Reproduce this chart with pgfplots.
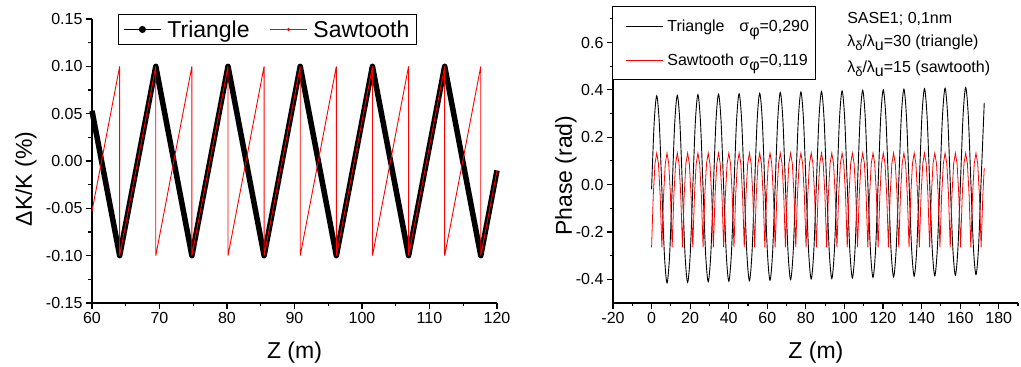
\documentclass[border=0pt]{standalone}
\usepackage{pgfplots}
\pgfplotsset{compat=1.18}
\usepackage{fontspec}
\setmainfont{Liberation Sans}
\begin{document}
\begin{tikzpicture}
\useasboundingbox (0,0) rectangle (1021pt,367pt);
\pgfplotsset{
  mylegend/.style={legend image code/.code={\draw[mark repeat=2,mark phase=2,##1] plot coordinates {(0pt,0pt) (18.5pt,0pt) (37pt,0pt)};}},
  mylegendR/.style={legend image code/.code={\path (0pt,0pt); \draw[##1] (9pt,0pt) -- (46pt,0pt);}},
  common/.style={scale only axis, anchor=south west, clip=false,
    axis x line*=bottom, axis y line*=left, axis line style={-, line width=1.3pt},
    tick style={black, line width=1.1pt},
    tick align=outside, major tick length=6pt, minor tick length=3.5pt,
    tick label style={font=\fontsize{16}{18}\selectfont},
    /pgf/number format/assume math mode=true,
    label style={font=\fontsize{23}{26}\selectfont},
  }
}
% ---------------- left panel ----------------
\begin{axis}[common, mylegend, at={(92pt,64pt)}, width=405pt, height=284pt,
  xmin=60, xmax=120, ymin=-0.15, ymax=0.15,
  xtick={60,70,...,120}, minor xtick={65,75,...,115},
  ytick={-0.15,-0.10,-0.05,0,0.05,0.10,0.15},
  minor ytick={-0.125,-0.075,-0.025,0.025,0.075,0.125},
  yticklabel style={/pgf/number format/.cd,fixed,fixed zerofill,precision=2},
  xlabel={Z (m)}, ylabel={ΔK/K (\%)},
  xlabel style={at={(axis description cs:0.5,-0.176)},anchor=center},
  ylabel style={at={(axis description cs:-0.163,0.437)},anchor=center},
  legend columns=2,
  legend style={at={(axis description cs:0.064,1.018)}, anchor=north west, draw=black, line width=1pt, fill=white,
    font=\fontsize{23}{26}\selectfont, inner xsep=5pt, inner ysep=4pt,
    /tikz/every odd column/.append style={column sep=4pt},
    /tikz/every even column/.append style={column sep=18pt}},
]
\addlegendimage{black, line width=1pt, mark=*, mark size=3pt}
\addlegendentry{Triangle}
\addlegendimage{red, line width=0.8pt, mark=*, mark size=1.2pt}
\addlegendentry{Sawtooth}
\addplot[black, line width=5.5pt, line join=round, forget plot] coordinates {
(60,0.053) (64.1,-0.1) (69.45,0.1) (74.8,-0.1) (80.15,0.1) (85.5,-0.1) (90.85,0.1)
(96.2,-0.1) (101.55,0.1) (106.9,-0.1) (112.25,0.1) (117.6,-0.1) (120,-0.01)};
\addplot[red, line width=0.9pt, forget plot] coordinates {
(60,-0.053) (64.1,0.1) (64.1,-0.1) (69.45,0.1) (69.45,-0.1) (74.8,0.1) (74.8,-0.1)
(80.15,0.1) (80.15,-0.1) (85.5,0.1) (85.5,-0.1) (90.85,0.1) (90.85,-0.1)
(96.2,0.1) (96.2,-0.1) (101.55,0.1) (101.55,-0.1) (106.9,0.1) (106.9,-0.1)
(112.25,0.1) (112.25,-0.1) (117.6,0.1) (117.6,-0.1) (120,-0.01)};
\end{axis}
% ---------------- right panel ----------------
\begin{axis}[common, mylegendR, at={(613pt,64pt)}, width=405pt, height=296pt,
  xmin=-20, xmax=190, ymin=-0.5, ymax=0.75,
  xtick={-20,0,...,180}, minor xtick={-10,10,...,190},
  ytick={-0.4,-0.2,0,0.2,0.4,0.6}, minor ytick={-0.3,-0.1,0.1,0.3,0.5,0.7},
  yticklabel style={/pgf/number format/.cd,fixed,fixed zerofill,precision=1},
  xlabel={Z (m)}, ylabel={Phase (rad)},
  xlabel style={at={(axis description cs:0.501,-0.169)},anchor=center},
  ylabel style={at={(axis description cs:-0.116,0.43)},anchor=center},
  legend cell align=left,
  legend style={at={(axis description cs:0,1)}, anchor=north west, xshift=-1pt, yshift=1pt,
    draw=black, line width=1pt, fill=white, font=\fontsize{16}{19}\selectfont,
    row sep=17pt, inner xsep=4pt, inner ysep=11pt,
    /tikz/every odd column/.append style={column sep=2pt}},
]
\addplot[black, line width=0.9pt, smooth] coordinates {
(0,-0.020)(1.335,0.259)(2.67,0.375)(4.005,0.259)(5.34,-0.020)(6.675,-0.299)(8.01,-0.415)(9.345,-0.299)
(10.68,-0.018)(12.015,0.261)(13.35,0.377)(14.685,0.261)(16.02,-0.018)(17.355,-0.297)(18.69,-0.413)(20.025,-0.297)
(21.36,-0.015)(22.695,0.264)(24.03,0.380)(25.365,0.264)(26.70,-0.015)(28.035,-0.294)(29.37,-0.410)(30.705,-0.294)
(32.04,-0.013)(33.375,0.266)(34.71,0.382)(36.045,0.266)(37.38,-0.013)(38.715,-0.292)(40.05,-0.408)(41.385,-0.292)
(42.72,-0.011)(44.055,0.268)(45.39,0.384)(46.725,0.268)(48.06,-0.011)(49.395,-0.290)(50.73,-0.406)(52.065,-0.290)
(53.40,-0.009)(54.735,0.270)(56.07,0.386)(57.405,0.270)(58.74,-0.009)(60.075,-0.288)(61.41,-0.404)(62.745,-0.288)
(64.08,-0.006)(65.415,0.273)(66.75,0.389)(68.085,0.273)(69.42,-0.006)(70.755,-0.285)(72.09,-0.401)(73.425,-0.285)
(74.76,-0.004)(76.095,0.275)(77.43,0.391)(78.765,0.275)(80.10,-0.004)(81.435,-0.283)(82.77,-0.399)(84.105,-0.283)
(85.44,-0.002)(86.775,0.277)(88.11,0.393)(89.445,0.277)(90.78,-0.002)(92.115,-0.281)(93.45,-0.397)(94.785,-0.281)
(96.12,0.001)(97.455,0.280)(98.79,0.396)(100.125,0.280)(101.46,0.001)(102.795,-0.278)(104.13,-0.394)(105.465,-0.278)
(106.80,0.003)(108.135,0.282)(109.47,0.398)(110.805,0.282)(112.14,0.003)(113.475,-0.276)(114.81,-0.392)(116.145,-0.276)
(117.48,0.005)(118.815,0.284)(120.15,0.400)(121.485,0.284)(122.82,0.005)(124.155,-0.274)(125.49,-0.390)(126.825,-0.274)
(128.16,0.008)(129.495,0.287)(130.83,0.403)(132.165,0.287)(133.50,0.008)(134.835,-0.271)(136.17,-0.387)(137.505,-0.271)
(138.84,0.010)(140.175,0.289)(141.51,0.405)(142.845,0.289)(144.18,0.010)(145.515,-0.269)(146.85,-0.385)(148.185,-0.269)
(149.52,0.012)(150.855,0.291)(152.19,0.407)(153.525,0.291)(154.86,0.012)(156.195,-0.267)(157.53,-0.383)(158.865,-0.267)
(160.20,0.015)(161.535,0.294)(162.87,0.410)(164.205,0.294)(165.54,0.015)(166.875,-0.264)(168.21,-0.380)(169.545,-0.264)
(170.88,0.017)(172.5,0.345)};
\addlegendentry{\makebox[72pt][l]{Triangle}σ\raisebox{-0.6ex}{φ}=0,290}
\addplot[red, line width=0.8pt] coordinates {
(0,-0.265)(0.89,-0.044)(1.78,0.089)(2.67,0.133)(3.56,0.089)(4.45,-0.044)
(5.34,-0.265)(6.23,-0.044)(7.12,0.089)(8.01,0.133)(8.90,0.089)(9.79,-0.044)
(10.68,-0.265)(11.57,-0.044)(12.46,0.089)(13.35,0.133)(14.24,0.089)(15.13,-0.044)
(16.02,-0.265)(16.91,-0.044)(17.80,0.089)(18.69,0.133)(19.58,0.089)(20.47,-0.044)
(21.36,-0.265)(22.25,-0.044)(23.14,0.089)(24.03,0.133)(24.92,0.089)(25.81,-0.044)
(26.70,-0.265)(27.59,-0.044)(28.48,0.089)(29.37,0.133)(30.26,0.089)(31.15,-0.044)
(32.04,-0.265)(32.93,-0.044)(33.82,0.089)(34.71,0.133)(35.60,0.089)(36.49,-0.044)
(37.38,-0.265)(38.27,-0.044)(39.16,0.089)(40.05,0.133)(40.94,0.089)(41.83,-0.044)
(42.72,-0.265)(43.61,-0.044)(44.50,0.089)(45.39,0.133)(46.28,0.089)(47.17,-0.044)
(48.06,-0.265)(48.95,-0.044)(49.84,0.089)(50.73,0.133)(51.62,0.089)(52.51,-0.044)
(53.40,-0.265)(54.29,-0.044)(55.18,0.089)(56.07,0.133)(56.96,0.089)(57.85,-0.044)
(58.74,-0.265)(59.63,-0.044)(60.52,0.089)(61.41,0.133)(62.30,0.089)(63.19,-0.044)
(64.08,-0.265)(64.97,-0.044)(65.86,0.089)(66.75,0.133)(67.64,0.089)(68.53,-0.044)
(69.42,-0.265)(70.31,-0.044)(71.20,0.089)(72.09,0.133)(72.98,0.089)(73.87,-0.044)
(74.76,-0.265)(75.65,-0.044)(76.54,0.089)(77.43,0.133)(78.32,0.089)(79.21,-0.044)
(80.10,-0.265)(80.99,-0.044)(81.88,0.089)(82.77,0.133)(83.66,0.089)(84.55,-0.044)
(85.44,-0.265)(86.33,-0.044)(87.22,0.089)(88.11,0.133)(89.00,0.089)(89.89,-0.044)
(90.78,-0.265)(91.67,-0.044)(92.56,0.089)(93.45,0.133)(94.34,0.089)(95.23,-0.044)
(96.12,-0.265)(97.01,-0.044)(97.90,0.089)(98.79,0.133)(99.68,0.089)(100.57,-0.044)
(101.46,-0.265)(102.35,-0.044)(103.24,0.089)(104.13,0.133)(105.02,0.089)(105.91,-0.044)
(106.80,-0.265)(107.69,-0.044)(108.58,0.089)(109.47,0.133)(110.36,0.089)(111.25,-0.044)
(112.14,-0.265)(113.03,-0.044)(113.92,0.089)(114.81,0.133)(115.70,0.089)(116.59,-0.044)
(117.48,-0.265)(118.37,-0.044)(119.26,0.089)(120.15,0.133)(121.04,0.089)(121.93,-0.044)
(122.82,-0.265)(123.71,-0.044)(124.60,0.089)(125.49,0.133)(126.38,0.089)(127.27,-0.044)
(128.16,-0.265)(129.05,-0.044)(129.94,0.089)(130.83,0.133)(131.72,0.089)(132.61,-0.044)
(133.50,-0.265)(134.39,-0.044)(135.28,0.089)(136.17,0.133)(137.06,0.089)(137.95,-0.044)
(138.84,-0.265)(139.73,-0.044)(140.62,0.089)(141.51,0.133)(142.40,0.089)(143.29,-0.044)
(144.18,-0.265)(145.07,-0.044)(145.96,0.089)(146.85,0.133)(147.74,0.089)(148.63,-0.044)
(149.52,-0.265)(150.41,-0.044)(151.30,0.089)(152.19,0.133)(153.08,0.089)(153.97,-0.044)
(154.86,-0.265)(155.75,-0.044)(156.64,0.089)(157.53,0.133)(158.42,0.089)(159.31,-0.044)
(160.20,-0.265)(161.09,-0.044)(161.98,0.089)(162.87,0.133)(163.76,0.089)(164.65,-0.044)
(165.54,-0.265)(166.43,-0.044)(167.32,0.089)(168.21,0.133)(169.10,0.089)(169.99,-0.044)
(170.88,-0.265)(171.77,-0.044)(172.5,0.07)};
\addlegendentry{\makebox[72pt][l]{Sawtooth}σ\raisebox{-0.6ex}{φ}=0,119}
\node[anchor=base west, font=\fontsize{16}{19}\selectfont, inner sep=0pt] at (axis description cs:0.578,0.9426) {SASE1; 0,1nm};
\node[anchor=base west, font=\fontsize{16}{19}\selectfont, inner sep=0pt] at (axis description cs:0.578,0.868) {λ\raisebox{-0.5ex}{\fontsize{13}{13}\selectfont δ}/λ\raisebox{-0.5ex}{u}=30 (triangle)};
\node[anchor=base west, font=\fontsize{16}{19}\selectfont, inner sep=0pt] at (axis description cs:0.578,0.780) {λ\raisebox{-0.5ex}{\fontsize{13}{13}\selectfont δ}/λ\raisebox{-0.5ex}{u}=15 (sawtooth)};
\end{axis}
\end{tikzpicture}
\end{document}
